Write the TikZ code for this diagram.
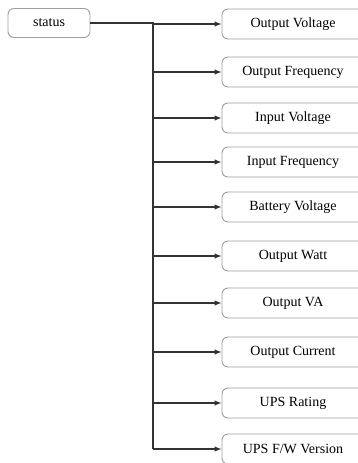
\documentclass[tikz,border=0pt]{standalone}
\usepackage{fontspec}
\setmainfont{Liberation Serif}
\usetikzlibrary{arrows.meta}

\begin{document}
\begin{tikzpicture}[x=1pt,y=-1pt,
  box/.style={draw=gray!75, line width=0.9pt, rounded corners=6pt,
    fill=white, text=black, font=\fontsize{14}{16}\selectfont},
  link/.style={draw=black!80, line width=1.1pt},
  arr/.style={link, -{Latex[length=7pt,width=5.5pt]}}]
\clip (0,0) rectangle (358,463);
\def \trunk {153}
\node[box, minimum width=82pt, minimum height=29pt] (status) at (49,23) {status};
\foreach \y/\name [count=\i] in {24/{Output Voltage}, 72/{Output Frequency},
    118/{Input Voltage}, 162/{Input Frequency}, 207/{Battery Voltage},
    256/{Output Watt}, 303/{Output VA}, 352/{Output Current},
    403/{UPS Rating}, 449/{UPS F/W Version}}
  {\coordinate (b\i) at (\trunk,\y);
   \node[box, minimum width=142pt, minimum height=30pt] (out\i) at (293,\y) {\name};
   \draw[arr] (b\i) -- (out\i.west);}
\draw[link] (status.east) -- (b1 |- status.east) -- (b10);
\end{tikzpicture}
\end{document}
